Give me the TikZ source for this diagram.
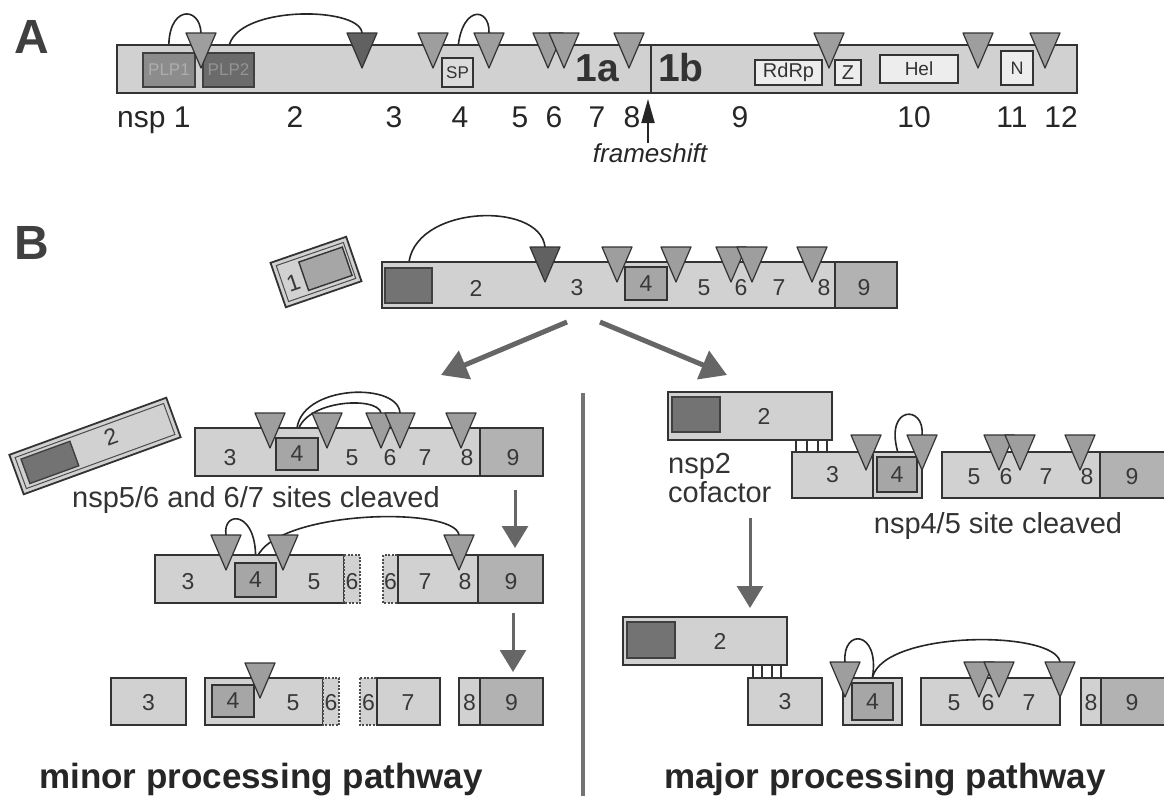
\documentclass[tikz,border=0pt]{standalone}
\usepackage{fontspec}
\setmainfont{Liberation Sans}
\usetikzlibrary{arrows.meta, positioning, backgrounds}
\tikzstyle{bar}       = [draw=black!80, line width=1.8pt, fill=black!18]
\tikzstyle{cterm}     = [draw=black!80, line width=1.8pt, fill=black!30]
\tikzstyle{frag}      = [draw=black!70, line width=1.4pt, dash pattern=on 2pt off 1.5pt, fill=black!18]
\tikzstyle{plp}       = [rectangle, draw=black!75, line width=1.4pt, fill=black!55, inner sep=0pt]
\tikzstyle{dombox}    = [rectangle, draw=black!80, line width=1.4pt, fill=black!7, inner sep=0pt, text=black!80]
\tikzstyle{pro}       = [rectangle, draw=black!80, line width=1.4pt, fill=black!35, inner sep=0pt]
\tikzstyle{site}      = [draw=black!80, line width=1.2pt, fill=black!38, line join=round]
\tikzstyle{dsite}     = [site, fill=black!62]
\tikzstyle{loopline}  = [draw=black!85, line width=1.6pt]
\tikzstyle{tickline}  = [draw=black!80, line width=1.4pt]
\tikzstyle{forkarrow} = [-{Triangle[length=26pt, width=30pt]}, line width=5pt, draw=black!60, fill=black!60]
\tikzstyle{downarrow} = [-{Triangle[length=22pt, width=26pt]}, line width=3pt, draw=black!60, fill=black!60]
\tikzstyle{num}       = [font=\fontsize{30}{32}\selectfont, text=black!85, inner sep=0pt]
\tikzstyle{tag}       = [font=\fontsize{23}{25}\selectfont, text=black!78, inner sep=0pt]
\tikzstyle{caption}   = [font=\fontsize{29}{30}\selectfont, text=black!80, inner sep=0pt]
\tikzstyle{title}     = [font=\fontsize{35}{36}\selectfont\bfseries, text=black!85, inner sep=0pt]
\tikzstyle{panel}     = [font=\fontsize{48}{48}\selectfont\bfseries, text=black!75, inner sep=0pt]
\tikzstyle{half}      = [font=\fontsize{39}{40}\selectfont\bfseries, text=black!80, inner sep=0pt]
\newcommand{\cutsite}[4][site]{%
  \coordinate (#2) at (#3,#4);
  \draw[#1] (#2) ++(-15,0) -- ++(30,0) -- ++(-15,35) -- cycle;}

\begin{document}
\begin{tikzpicture}[x=1pt, y=-1pt]
    \useasboundingbox (0,0) rectangle (1164,796);

    % A
    \node[panel] (la) at (32,37) {A};
    \draw[bar] (117,45) rectangle (1077,93);
    \draw[black!80, line width=1.8pt] (651,45) -- (651,93);
    \node[plp, fill=black!45, minimum width=52pt, minimum height=34pt, font=\fontsize{17}{17}\selectfont, text=black!32] (plpone) at (169,70) {PLP1};
    \node[plp, fill=black!58, minimum width=51pt, minimum height=34pt, font=\fontsize{17}{17}\selectfont, text=black!42] (plptwo) at (228.5,70) {PLP2};
    \node[dombox, fill=black!14, minimum width=31pt, minimum height=29pt, font=\fontsize{17}{17}\selectfont] (sp) at (457.5,72.5) {SP};
    \node[dombox, minimum width=67pt, minimum height=25pt, font=\fontsize{20}{20}\selectfont] (rdrp) at (788.5,72.5) {RdRp};
    \node[dombox, minimum width=26pt, minimum height=25pt, font=\fontsize{20}{20}\selectfont] (zinc) at (848,72.5) {Z};
    \node[dombox, minimum width=78pt, minimum height=28pt, font=\fontsize{19}{19}\selectfont] (hel) at (919,69) {Hel};
    \node[dombox, minimum width=32pt, minimum height=34pt, font=\fontsize{18}{18}\selectfont] (nmt) at (1017,68) {N};
    \node[half] (oneA) at (597,68) {1a};
    \node[half] (oneB) at (681,68) {1b};
    \cutsite{sa1}{201}{33}
    \cutsite[dsite]{sa2}{362}{33}
    \cutsite{sa3}{433}{33}
    \cutsite{sa4}{489}{33}
    \cutsite{sa5}{548}{33}
    \cutsite{sa6}{564}{33}
    \cutsite{sa7}{629}{33}
    \cutsite{sa8}{829}{33}
    \cutsite{sa9}{978}{33}
    \cutsite{sa10}{1045}{33}
    \begin{scope}[on background layer]
        \draw[loopline] (plpone.north) .. controls (166,5) and (200,5) .. (sa1);
        \draw[loopline] (plptwo.north) .. controls (226,5) and (360,5) .. (sa2);
        \draw[loopline] (sp.north) .. controls (458,5) and (490,5) .. (sa4);
    \end{scope}
    \node[num, anchor=base west] (nspA) at (117,127) {nsp 1};
    \node[num, anchor=base] (na2) at (295,127) {2};
    \node[num, anchor=base] (na3) at (394,127) {3};
    \node[num, anchor=base] (na4) at (460,127) {4};
    \node[num, anchor=base] (na5) at (520,127) {5};
    \node[num, anchor=base] (na6) at (554,127) {6};
    \node[num, anchor=base] (na7) at (597,127) {7};
    \node[num, anchor=base] (na8) at (632,127) {8};
    \node[num, anchor=base] (na9) at (740,127) {9};
    \node[num, anchor=base] (na10) at (914,127) {10};
    \node[num, anchor=base] (na11) at (1012,127) {11};
    \node[num, anchor=base] (na12) at (1061,127) {12};
    \node[font=\fontsize{26}{26}\selectfont\itshape, text=black!85, inner sep=0pt, anchor=base] (fs) at (650,162) {frameshift};
    \coordinate (fstip) at (648,99);
    \draw[-{Triangle[length=24pt, width=13pt]}, line width=2pt, black!85] (fs.north -| fstip) -- (fstip);

    % B
    \node[panel] (lb) at (32,243) {B};
    \begin{scope}[shift={(316,272)}, rotate=19, transform shape]
        \node[bar, minimum width=80pt, minimum height=47pt, inner sep=0pt] (nspone) at (0,0) {};
        \node[draw=black!70, line width=1pt, minimum width=71pt, minimum height=38pt, inner sep=0pt] (nsponerim) at (0,0) {};
        \node[pro, minimum width=46pt, minimum height=30pt] (nsponecore) at (10,0) {};
        \node[tag] (nsponelab) at (-25,3) {1};
    \end{scope}
    \draw[bar] (382,262) rectangle (897,308);
    \draw[cterm] (835,262) rectangle (897,308);
    \node[plp, minimum width=47pt, minimum height=35pt] (bplp) at (408.5,285.5) {};
    \node[pro, tag, minimum width=42pt, minimum height=33pt] (bfour) at (646,283.5) {4};
    \node[tag] (nb2) at (476,288) {2};
    \node[tag] (nb3) at (577,288) {3};
    \node[tag] (nb5) at (704,288) {5};
    \node[tag] (nb6) at (741,288) {6};
    \node[tag] (nb7) at (779,288) {7};
    \node[tag] (nb8) at (824,288) {8};
    \node[tag] (nb9) at (864,288) {9};
    \cutsite[dsite]{sb1}{545}{247}
    \cutsite{sb2}{617}{247}
    \cutsite{sb3}{676}{247}
    \cutsite{sb4}{731}{247}
    \cutsite{sb5}{752}{247}
    \cutsite{sb6}{812}{247}
    \begin{scope}[on background layer]
        \draw[loopline] (bplp.north) .. controls (410,205) and (540,200) .. (sb1);
    \end{scope}
    \coordinate (forkl) at (567,322);
    \coordinate (minor) at (441,375);
    \coordinate (forkr) at (600,322);
    \coordinate (major) at (727,375);
    \draw[forkarrow] (forkl) -- (minor);
    \draw[forkarrow] (forkr) -- (major);
    \draw[line width=4pt, black!55] (583,393) -- (583,796);

    % minor pathway
    \begin{scope}[shift={(95,446)}, rotate=20, transform shape]
        \node[bar, minimum width=167pt, minimum height=42pt] (nsptwoL) at (0,0) {};
        \node[draw=black!70, line width=1pt, minimum width=158pt, minimum height=33pt, inner sep=0pt] (nsptworim) at (0,0) {};
        \node[plp, minimum width=52pt, minimum height=26pt] (nsptwocore) at (-48,0) {};
        \node[tag] (nsptwolab) at (18,-3) {2};
    \end{scope}
    \draw[bar] (195,428) rectangle (543,476);
    \draw[cterm] (480,428) rectangle (543,476);
    \node[pro, tag, minimum width=42pt, minimum height=32pt] (lfour) at (297,454) {4};
    \node[tag] (nl3) at (230,458) {3};
    \node[tag] (nl5) at (352,458) {5};
    \node[tag] (nl6) at (390,458) {6};
    \node[tag] (nl7) at (425,458) {7};
    \node[tag] (nl8) at (467,458) {8};
    \node[tag] (nl9) at (513,458) {9};
    \cutsite{sl1}{270}{413}
    \cutsite{sl2}{327}{413}
    \cutsite{sl3}{381}{413}
    \cutsite{sl4}{400}{413}
    \cutsite{sl5}{461}{413}
    \begin{scope}[on background layer]
        \draw[loopline] (lfour.north) .. controls (290,385) and (398,380) .. (sl4);
        \draw[loopline] (lfour.north) .. controls (297,400) and (378,395) .. (sl3);
    \end{scope}
    \node[caption, anchor=base] (cleavL) at (256,507) {nsp5/6 and 6/7 sites cleaved};
    \coordinate (dlone) at (515,490);
    \coordinate (dltwo) at (515,548);
    \draw[downarrow] (dlone) -- (dltwo);

    \draw[bar] (155,555) rectangle (344,603);
    \draw[frag] (344,555) rectangle (360,603);
    \draw[frag] (383,555) rectangle (398,603);
    \draw[bar] (398,555) rectangle (478,603);
    \draw[cterm] (478,555) rectangle (543,603);
    \node[pro, tag, minimum width=41pt, minimum height=34pt] (mfour) at (255.5,580) {4};
    \node[tag] (nm3) at (188,582) {3};
    \node[tag] (nm5) at (314,582) {5};
    \node[tag] (nm6) at (352,582) {6};
    \node[tag] (nm6b) at (390.5,582) {6};
    \node[tag] (nm7) at (425,582) {7};
    \node[tag] (nm8) at (465,582) {8};
    \node[tag] (nm9) at (511,582) {9};
    \cutsite{sm1}{226}{535}
    \cutsite{sm2}{283}{535}
    \cutsite{sm3}{459}{535}
    \begin{scope}[on background layer]
        \draw[loopline] (mfour.north) .. controls (258,510) and (222,510) .. (sm1);
        \draw[loopline] (mfour.north) .. controls (265,510) and (455,505) .. (sm3);
    \end{scope}
    \coordinate (dlthree) at (513,613);
    \coordinate (dlfour) at (513,672);
    \draw[downarrow] (dlthree) -- (dlfour);

    \draw[bar] (111,678) rectangle (186,725);
    \draw[bar] (205,678) rectangle (323,725);
    \draw[frag] (323,678) rectangle (339,725);
    \draw[frag] (360,678) rectangle (377,725);
    \draw[bar] (377,678) rectangle (440,725);
    \draw[bar] (459,678) rectangle (480,725);
    \draw[cterm] (480,678) rectangle (543,725);
    \node[pro, tag, minimum width=42pt, minimum height=32pt] (nfour) at (233,701) {4};
    \node[tag] (nn3) at (148.5,703) {3};
    \node[tag] (nn5) at (293,703) {5};
    \node[tag] (nn6) at (331,703) {6};
    \node[tag] (nn6b) at (368.5,703) {6};
    \node[tag] (nn7) at (408,703) {7};
    \node[tag] (nn8) at (469.5,703) {8};
    \node[tag] (nn9) at (511.5,703) {9};
    \cutsite{sn1}{260}{663}
    \node[title, anchor=base] (minorT) at (261,788) {minor processing pathway};

    % major pathway
    \node[bar, minimum width=164pt, minimum height=48pt] (twoR) at (750,416) {};
    \node[plp, minimum width=48pt, minimum height=35pt] (twoRplp) at (696,414.5) {};
    \node[tag] (twoRlab) at (764,416) {2};
    \node[bar, tag, minimum width=81pt, minimum height=46pt] (threeR) at (832.5,475) {3};
    \node[bar, minimum width=49pt, minimum height=46pt] (fourR) at (897.5,475) {};
    \node[pro, tag, minimum width=40pt, minimum height=35pt] (fourRin) at (897,474.5) {4};
    \draw[tickline] (twoR.south -| 796,0) -- (threeR.north -| 796,0);
    \draw[tickline] (twoR.south -| 807,0) -- (threeR.north -| 807,0);
    \draw[tickline] (twoR.south -| 818,0) -- (threeR.north -| 818,0);
    \draw[tickline] (twoR.south -| 827,0) -- (threeR.north -| 827,0);
    \draw[bar] (942,452) rectangle (1100,498);
    \draw[cterm] (1100,452) rectangle (1167,498);
    \node[tag] (nr5) at (974,477) {5};
    \node[tag] (nr6) at (1006,477) {6};
    \node[tag] (nr7) at (1046,477) {7};
    \node[tag] (nr8) at (1087,477) {8};
    \node[tag] (nr9) at (1132,477) {9};
    \cutsite{sr1}{866}{435}
    \cutsite{sr2}{922}{435}
    \cutsite{sr3}{999}{435}
    \cutsite{sr4}{1020}{435}
    \cutsite{sr5}{1080}{435}
    \begin{scope}[on background layer]
        \draw[loopline] (fourR.north) .. controls (885,405) and (925,405) .. (sr2);
    \end{scope}
    \node[caption, anchor=base west] (nsptwo) at (668,473) {nsp2};
    \node[caption, anchor=base west] (cofac) at (668,502) {cofactor};
    \node[caption, anchor=base] (cleavR) at (998,533) {nsp4/5 site cleaved};
    \coordinate (drone) at (750,518);
    \coordinate (drtwo) at (750,608);
    \draw[downarrow] (drone) -- (drtwo);

    \node[bar, minimum width=164pt, minimum height=48pt] (twoS) at (705,641) {};
    \node[plp, minimum width=48pt, minimum height=36pt] (twoSplp) at (651,640) {};
    \node[tag] (twoSlab) at (720,641) {2};
    \node[bar, tag, minimum width=74pt, minimum height=47pt] (threeS) at (785,701.5) {3};
    \draw[tickline] (twoS.south -| 753,0) -- (threeS.north -| 753,0);
    \draw[tickline] (twoS.south -| 762,0) -- (threeS.north -| 762,0);
    \draw[tickline] (twoS.south -| 772,0) -- (threeS.north -| 772,0);
    \draw[tickline] (twoS.south -| 781,0) -- (threeS.north -| 781,0);
    \node[bar, minimum width=59pt, minimum height=47pt] (fourS) at (872.5,701.5) {};
    \node[pro, tag, minimum width=41pt, minimum height=37pt] (fourSin) at (872.5,701.5) {4};
    \node[bar, minimum width=139pt, minimum height=47pt] (fiveS) at (990.5,701.5) {};
    \draw[bar] (1081,678) rectangle (1101,725);
    \draw[cterm] (1101,678) rectangle (1167,725);
    \node[tag] (ns5) at (954,703) {5};
    \node[tag] (ns6) at (988,703) {6};
    \node[tag] (ns7) at (1029,703) {7};
    \node[tag] (ns8) at (1091,703) {8};
    \node[tag] (ns9) at (1132,703) {9};
    \cutsite{ss1}{845}{662}
    \cutsite{ss2}{979}{662}
    \cutsite{ss3}{999}{662}
    \cutsite{ss4}{1060}{662}
    \begin{scope}[on background layer]
        \draw[loopline] (fourS.north) .. controls (880,630) and (842,628) .. (ss1);
        \draw[loopline] (fourS.north) .. controls (885,630) and (1055,630) .. (ss4);
    \end{scope}
    \node[title, anchor=base] (majorT) at (885,788) {major processing pathway};
\end{tikzpicture}
\end{document}
